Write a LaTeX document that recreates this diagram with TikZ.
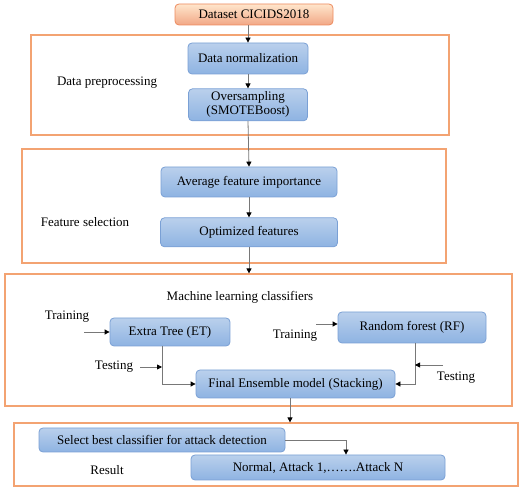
\documentclass[tikz,border=0pt]{standalone}
\usepackage{fontspec}
\setmainfont{Liberation Serif}
\definecolor{boxblue}{RGB}{122, 160, 213}
\definecolor{topblue}{RGB}{186, 208, 236}
\definecolor{botblue}{RGB}{142, 179, 226}
\definecolor{frameorange}{RGB}{243, 163, 114}
\definecolor{dataorange}{RGB}{237, 138, 93}
\definecolor{linegray}{RGB}{120, 120, 120}
\usetikzlibrary{arrows.meta, positioning, calc}
\tikzset{
	proc/.style={rectangle, rounded corners=4pt, draw=boxblue, top color=topblue, bottom color=botblue, line width=0.8pt, align=center, inner sep=0pt, font=\fontsize{13}{14}\selectfont},
	source/.style={rectangle, rounded corners=4pt, draw=dataorange, top color=orange!20!white, bottom color=dataorange!75!white, line width=0.8pt, align=center, inner sep=0pt, font=\fontsize{13}{14}\selectfont},
	group/.style={rectangle, draw=frameorange, line width=1.2pt, inner sep=0pt},
	lbl/.style={inner sep=0pt, font=\fontsize{13}{14}\selectfont},
	arrow/.style={-{Triangle[length=5pt, width=5pt, color=black]}, line width=0.8pt, draw=linegray},
}

\begin{document}
\begin{tikzpicture}[x=1pt, y=-1pt]
		\useasboundingbox (0,0) rectangle (523,489);
		% frames
		\node[group, minimum width=418pt, minimum height=100pt] (g1) at (240,85) {};
		\node[group, minimum width=424pt, minimum height=114pt] (g2) at (234,206) {};
		\node[group, minimum width=507pt, minimum height=132pt] (g3) at (258.5,340) {};
		\node[group, minimum width=504pt, minimum height=63pt] (g4) at (266,454.5) {};
		% main flow
		\node[source, minimum width=158pt, minimum height=21pt] (data) at (254,14.5) {Dataset CICIDS2018};
		\node[proc, minimum width=120pt, minimum height=31pt] (norm) at (248,58.5) {Data normalization};
		\node[proc, minimum width=119pt, minimum height=32pt, below=14pt of norm] (over) {Oversampling\\(SMOTEBoost)};
		\node[proc, minimum width=176pt, minimum height=30pt] (avg) at (249,182) {Average feature importance};
		\node[proc, minimum width=177pt, minimum height=29pt, below=20pt of avg] (opt) {Optimized features};
		\node[proc, minimum width=120pt, minimum height=28pt] (et) at (170,332) {Extra Tree (ET)};
		\node[proc, minimum width=148pt, minimum height=31pt] (rf) at (412,327.5) {Random forest (RF)};
		\node[proc, minimum width=199pt, minimum height=28pt] (fin) at (295.5,384) {Final Ensemble model (Stacking)};
		\node[proc, minimum width=246pt, minimum height=24pt] (sel) at (162,440) {Select best classifier for attack detection};
		\node[proc, minimum width=254pt, minimum height=25pt] (res) at (318,467.5) {Normal, Attack 1,\dots\dots.Attack N};
		% labels
		\node[lbl] (prep) at (107,83) {Data preprocessing};
		\node[lbl] (fsel) at (85,222) {Feature selection};
		\node[lbl] (mlc) at (240,297) {Machine learning classifiers};
		\node[lbl] (trainet) at (67,317) {Training};
		\node[lbl] (testet) at (114,367) {Testing};
		\node[lbl] (trainrf) at (295,336) {Training};
		\node[lbl] (testrf) at (456,378) {Testing};
		\node[lbl] (result) at (107,470) {Result};
		% free ends
		\coordinate (trainetin) at (84,332);
		\coordinate (testetin) at (140,367);
		\coordinate (trainrfin) at (316,324);
		\coordinate (testrfin) at (443,365);
		\coordinate (etdown) at (162,346);
		\coordinate (rfdown) at (415,343);
		\draw[arrow] (norm.north |- data.south) -- (norm.north);
		\draw[arrow] (norm) -- (over);
		\draw[arrow] (over.south) -- (avg.north);
		\draw[arrow] (avg) -- (opt);
		\draw[arrow] (opt.south) -- (opt.south |- g3.north);
		\draw[arrow] (etdown) |- (fin.west);
		\draw[arrow] (rfdown) |- (fin.east);
		\draw[arrow] (trainetin) -- (trainetin -| et.west);
		\draw[arrow] (testetin) -- (testetin -| etdown);
		\draw[arrow] (trainrfin) -- (trainrfin -| rf.west);
		\draw[arrow] (testrfin) -- (testrfin -| rfdown);
		\draw[arrow] ([xshift=-5.5pt]fin.south) -- ([xshift=-5.5pt]fin.south |- g4.north);
		\draw[arrow] (sel.east) -| ([xshift=28pt]res.north);
	\end{tikzpicture}
\end{document}
